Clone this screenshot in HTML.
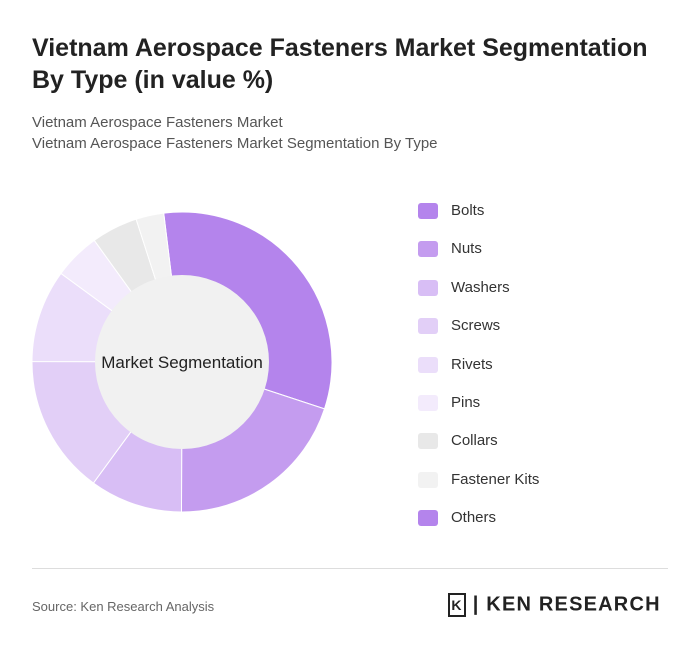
<!DOCTYPE html>
<html><head><meta charset="utf-8">
<style>
body{margin:0;background:#fff;font-family:"Liberation Sans",sans-serif;}
#wrap{position:relative;width:700px;height:653px;overflow:hidden;background:#fff;}
h1{position:absolute;left:32px;top:32px;margin:0;font-size:25px;line-height:32px;font-weight:bold;color:#222;width:620px;}
.sub{position:absolute;left:32px;font-size:15px;color:#555;}
.leg{position:absolute;left:418px;font-size:15px;color:#333;}
.leg span{position:absolute;left:0;top:2px;width:20px;height:16px;border-radius:3px;}
.leg b{font-weight:normal;position:absolute;left:33px;top:1px;white-space:nowrap;}
#rule{position:absolute;left:32px;top:568px;width:636px;height:1px;background:#ddd;}
#src{position:absolute;left:32px;top:599px;font-size:13px;color:#666;}
#logo{position:absolute;left:448px;top:593px;font-size:20px;font-weight:bold;color:#222;letter-spacing:1.2px;white-space:nowrap;}
</style></head><body>
<div id="wrap">
<h1>Vietnam Aerospace Fasteners Market Segmentation By Type (in value %)</h1>
<div class="sub" style="top:114px">Vietnam Aerospace Fasteners Market</div>
<div class="sub" style="top:135px">Vietnam Aerospace Fasteners Market Segmentation By Type</div>
<svg id="donut" width="700" height="653" style="position:absolute;left:0;top:0"></svg>
<div id="legend"></div>
<div id="rule"></div>
<div id="src">Source: Ken Research Analysis</div>
<div id="logo"><span style="display:inline-block;border:2px solid #222;width:14px;height:20px;text-align:center;font-size:14px;line-height:20px;vertical-align:middle">K</span> | KEN RESEARCH</div>
</div>
<script>
const categories=["Bolts","Nuts","Washers","Screws","Rivets","Pins","Collars","Fastener Kits","Others"];
const values=[32,20,10,15,10,5,5,3,0];
const colors=["#b484ec","#c49cef","#d8bef5","#e2cff7","#ebdefa","#f3ebfc","#e8e8e8","#f2f2f2","#b484ec"];
const svg=document.getElementById('donut');
const NS="http://www.w3.org/2000/svg";
const cx=182,cy=362,R=150;
const total=values.reduce((a,b)=>a+b,0);
function pt(a,rad){return [cx+rad*Math.sin(a),cy-rad*Math.cos(a)];}
let ang=-7*Math.PI/180;
values.forEach((v,i)=>{
  if(v<=0)return;
  const a2=ang+v/total*2*Math.PI;
  const p1=pt(ang,R),p2=pt(a2,R);
  const large=(a2-ang)>Math.PI?1:0;
  const p=document.createElementNS(NS,'path');
  p.setAttribute('d',`M${cx},${cy}L${p1[0]},${p1[1]}A${R},${R} 0 ${large} 1 ${p2[0]},${p2[1]}Z`);
  p.setAttribute('fill',colors[i]);
  p.setAttribute('stroke','#fff');p.setAttribute('stroke-width','1');
  
  
  svg.appendChild(p);
  ang=a2;
});
const c=document.createElementNS(NS,'circle');
c.setAttribute('cx',cx);c.setAttribute('cy',cy);c.setAttribute('r',87);c.setAttribute('fill','#f1f1f1');


svg.appendChild(c);
const t=document.createElementNS(NS,'text');
t.setAttribute('x',cx);t.setAttribute('y',cy+6);t.setAttribute('text-anchor','middle');
t.setAttribute('font-size','17');t.setAttribute('fill','#222');t.setAttribute('font-family','Liberation Sans, sans-serif');
t.textContent='Market Segmentation';


svg.appendChild(t);
const leg=document.getElementById('legend');
categories.forEach((name,i)=>{
  const d=document.createElement('div');
  d.className='leg';d.style.top=(201+i*38.4)+'px';
  d.innerHTML=`<span style="background:${colors[i]}"></span><b>${name}</b>`;
  
  
  leg.appendChild(d);
});
</script>
</body></html>
